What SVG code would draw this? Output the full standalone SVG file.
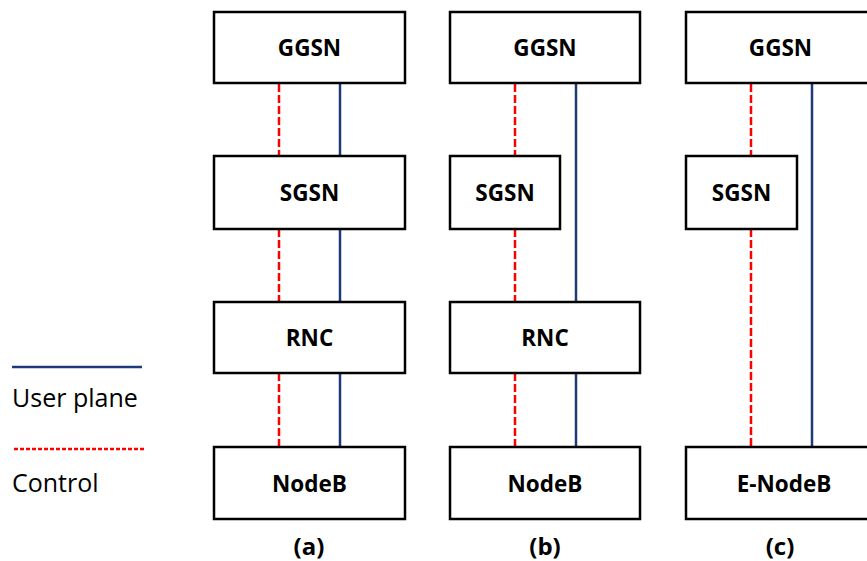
<svg xmlns="http://www.w3.org/2000/svg" width="867" height="561" viewBox="0 0 867 561">
<style>
.box{fill:#fff;stroke:#000;stroke-width:2.5}
.lbl{font-family:"Open Sans","Liberation Sans",sans-serif;font-weight:bold;font-size:22.5px;text-anchor:middle;fill:#000}
.cap{font-family:"Open Sans","Liberation Sans",sans-serif;font-weight:bold;font-size:24px;text-anchor:middle;fill:#000}
.leg{font-family:"Open Sans","Liberation Sans",sans-serif;font-size:25px;fill:#000}
.up{stroke:#1F3A78;stroke-width:2.5;fill:none}
.cp{stroke:#FF0000;stroke-width:2.5;stroke-dasharray:8 3;fill:none}
</style>
<rect width="867" height="561" fill="#fff"/>
<g id="connectors">
<line class="cp" x1="279" y1="84" x2="279" y2="156"/>
<line class="cp" x1="279" y1="229" x2="279" y2="302"/>
<line class="cp" x1="279" y1="373" x2="279" y2="447"/>
<line class="up" x1="340" y1="84" x2="340" y2="156"/>
<line class="up" x1="340" y1="229" x2="340" y2="302"/>
<line class="up" x1="340" y1="373" x2="340" y2="447"/>
<line class="cp" x1="515" y1="84" x2="515" y2="156"/>
<line class="cp" x1="515" y1="229" x2="515" y2="302"/>
<line class="cp" x1="515" y1="373" x2="515" y2="447"/>
<line class="up" x1="576" y1="84" x2="576" y2="302"/>
<line class="up" x1="576" y1="373" x2="576" y2="447"/>
<line class="cp" x1="751" y1="84" x2="751" y2="156"/>
<line class="cp" x1="751" y1="229" x2="751" y2="447"/>
<line class="up" x1="812" y1="84" x2="812" y2="447"/>
</g>
<g id="a-ggsn"><rect class="box" x="214" y="12" width="191" height="71"/><text class="lbl" x="309.5" y="56">GGSN</text></g>
<g id="a-sgsn"><rect class="box" x="214" y="156" width="191" height="73"/><text class="lbl" x="309.5" y="200.5">SGSN</text></g>
<g id="a-rnc"><rect class="box" x="214" y="302" width="191" height="71"/><text class="lbl" x="309.5" y="345.5">RNC</text></g>
<g id="a-nodeb"><rect class="box" x="214" y="447" width="191" height="72"/><text class="lbl" x="309.5" y="491.5">NodeB</text></g>
<g id="b-ggsn"><rect class="box" x="450" y="12" width="190" height="71"/><text class="lbl" x="545" y="56">GGSN</text></g>
<g id="b-sgsn"><rect class="box" x="450" y="156" width="110" height="73"/><text class="lbl" x="505" y="200.5">SGSN</text></g>
<g id="b-rnc"><rect class="box" x="450" y="302" width="190" height="71"/><text class="lbl" x="545" y="345.5">RNC</text></g>
<g id="b-nodeb"><rect class="box" x="450" y="447" width="190" height="72"/><text class="lbl" x="545" y="491.5">NodeB</text></g>
<g id="c-ggsn"><rect class="box" x="686" y="12" width="190" height="71"/><text class="lbl" x="780.5" y="56">GGSN</text></g>
<g id="c-sgsn"><rect class="box" x="686" y="156" width="111" height="73"/><text class="lbl" x="741.5" y="200.5">SGSN</text></g>
<g id="c-enodeb"><rect class="box" x="686" y="447" width="190" height="72"/><text class="lbl" x="784" y="491.5">E-NodeB</text></g>
<g id="captions">
<text class="cap" x="309" y="555">(a)</text>
<text class="cap" x="545" y="555">(b)</text>
<text class="cap" x="780" y="555">(c)</text>
</g>
<g id="legend">
<line class="up" x1="12" y1="367" x2="142" y2="367"/>
<text class="leg" x="12" y="407">User plane</text>
<line stroke="#FF0000" stroke-width="2.5" stroke-dasharray="4 2" x1="14" y1="449" x2="144" y2="449"/>
<text class="leg" x="12" y="491.5">Control</text>
</g>
</svg>
